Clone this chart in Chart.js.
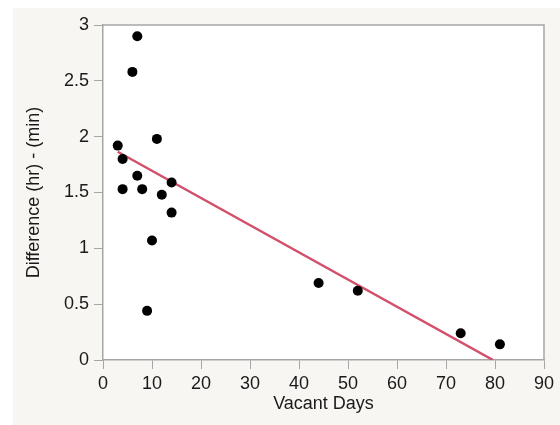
<!DOCTYPE html>
<html>
<head>
<meta charset="utf-8">
<script src="https://cdn.jsdelivr.net/npm/chart.js@4.4.1/dist/chart.umd.min.js"></script>
<style>
  html, body { margin: 0; padding: 0; background: #ffffff; }
  #c { display: block; }
</style>
</head>
<body>
<canvas id="c" width="560" height="425"></canvas>
<script>
// ---- data ----
const vacantDays  = [3, 4, 4, 6, 7, 7, 8, 9, 10, 11, 12, 14, 14, 44, 52, 73, 81];
const differences = [1.92, 1.80, 1.53, 2.58, 2.90, 1.65, 1.53, 0.44, 1.07, 1.98, 1.48, 1.59, 1.32, 0.69, 0.62, 0.24, 0.14];
const fitX = [3, 79.6];
const fitY = [1.865, 0];
const xTicks = [0, 10, 20, 30, 40, 50, 60, 70, 80, 90];
const yTicks = ['0', '0.5', '1', '1.5', '2', '2.5', '3'];
const xTitle = 'Vacant Days';
const yTitle = 'Difference (hr) - (min)';

const points = vacantDays.map((d, i) => ({ x: d, y: differences[i] }));
const fitPoints = fitX.map((d, i) => ({ x: d, y: fitY[i] }));

const FONT = "'Liberation Sans', Arial, Helvetica, sans-serif";

const bgPlugin = {
  id: 'bg',
  beforeDraw(chart) {
    const ctx = chart.ctx;
    const a = chart.chartArea;
    ctx.save();
    ctx.fillStyle = '#ffffff';
    ctx.fillRect(0, 0, chart.width, chart.height);
    ctx.fillStyle = '#f7f6f2';
    ctx.fillRect(13, 8, chart.width - 13, chart.height - 8);
    ctx.fillStyle = '#ffffff';
    ctx.fillRect(a.left, a.top, a.right - a.left, a.bottom - a.top);
    ctx.restore();
  },
  afterDraw(chart) {
    const ctx = chart.ctx;
    const a = chart.chartArea;
    ctx.save();
    ctx.strokeStyle = '#a6a6a6';
    ctx.lineWidth = 1.5;
    ctx.beginPath();
    ctx.moveTo(a.left, a.top);
    ctx.lineTo(a.right, a.top);
    ctx.lineTo(a.right, a.bottom);
    ctx.stroke();
    ctx.restore();
  }
};

new Chart(document.getElementById('c'), {
  type: 'scatter',
  data: {
    datasets: [
      {
        type: 'line',
        data: fitPoints,
        borderColor: '#d2506b',
        borderWidth: 2.5,
        pointRadius: 0,
        fill: false,
        order: 2
      },
      {
        data: points,
        backgroundColor: '#000000',
        borderWidth: 0,
        pointRadius: 5,
        order: 1
      }
    ]
  },
  options: {
    responsive: false,
    animation: false,
    devicePixelRatio: 1,
    layout: { padding: { top: 25, right: 16, left: 0, bottom: 0 } },
    plugins: {
      legend: { display: false },
      tooltip: { enabled: false }
    },
    scales: {
      x: {
        type: 'linear',
        min: 0,
        max: 90,
        afterFit(scale) { scale.height = 65; },
        afterBuildTicks(scale) { scale.ticks = xTicks.map(v => ({ value: v })); },
        ticks: {
          color: '#1a1a1a',
          font: { family: FONT, size: 18 },
          padding: 4,
          maxRotation: 0,
          callback: (v) => String(v)
        },
        grid: { display: true, drawOnChartArea: false, drawTicks: true, tickLength: 9, color: '#a6a6a6', tickColor: '#a6a6a6' },
        border: { display: true, color: '#a6a6a6', width: 1.5 },
        title: {
          display: true,
          text: xTitle,
          color: '#1a1a1a',
          font: { family: FONT, size: 18 },
          padding: { top: 0, bottom: 10 }
        }
      },
      y: {
        type: 'linear',
        min: 0,
        max: 3,
        afterFit(scale) { scale.width = 103; },
        afterBuildTicks(scale) { scale.ticks = yTicks.map(v => ({ value: parseFloat(v) })); },
        ticks: {
          color: '#1a1a1a',
          font: { family: FONT, size: 18 },
          padding: 5,
          callback: (v, i) => yTicks[i]
        },
        grid: { display: true, drawOnChartArea: false, drawTicks: true, tickLength: 9, color: '#a6a6a6', tickColor: '#a6a6a6' },
        border: { display: true, color: '#a6a6a6', width: 1.5 },
        title: {
          display: true,
          text: yTitle,
          color: '#1a1a1a',
          font: { family: FONT, size: 18 },
          padding: { top: 23, bottom: 0 }
        }
      }
    }
  },
  plugins: [bgPlugin]
});
</script>
</body>
</html>
